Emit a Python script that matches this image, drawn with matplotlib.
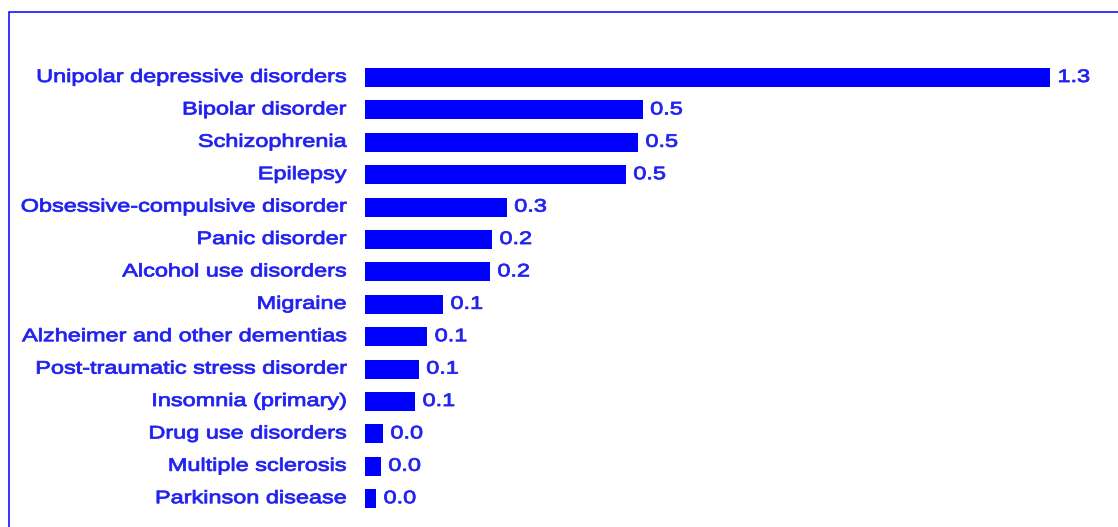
import matplotlib
matplotlib.use("Agg")
import matplotlib.pyplot as plt
import matplotlib.transforms as mtransforms
from matplotlib.patches import Rectangle
from matplotlib.patheffects import AbstractPathEffect

# Burden by condition (percent), largest first
conditions = [
    "Unipolar depressive disorders",
    "Bipolar disorder",
    "Schizophrenia",
    "Epilepsy",
    "Obsessive-compulsive disorder",
    "Panic disorder",
    "Alcohol use disorders",
    "Migraine",
    "Alzheimer and other dementias",
    "Post-traumatic stress disorder",
    "Insomnia (primary)",
    "Drug use disorders",
    "Multiple sclerosis",
    "Parkinson disease",
]
values = [1.30, 0.527, 0.518, 0.495, 0.269, 0.241, 0.237,
          0.148, 0.118, 0.102, 0.095, 0.034, 0.030, 0.021]

BLUE = "#0000ff"
TEXT = "#2020f0"
DPI = 100
W, H = 1118, 527

plt.rcParams["font.family"] = ["Liberation Sans", "DejaVu Sans"]


class WideText(AbstractPathEffect):
    """Widen glyphs horizontally about the left or right ink edge, with a thin outline."""

    def __init__(self, sx=1.30, anchor="left", stroke=0.6):
        super().__init__()
        self.sx, self.anchor, self.stroke = sx, anchor, stroke

    def draw_path(self, renderer, gc, tpath, affine, rgbFace=None):
        xa = tpath.get_extents().x1 if self.anchor == "right" else 0.0
        t = (mtransforms.Affine2D().translate(-xa, 0).scale(self.sx, 1)
             .translate(xa, 0)) + affine
        gc0 = renderer.new_gc()
        gc0.copy_properties(gc)
        gc0.set_linewidth(self.stroke)
        gc0.set_foreground(rgbFace)
        renderer.draw_path(gc0, tpath, t, rgbFace)
        gc0.restore()


fig = plt.figure(figsize=(W / DPI, H / DPI), dpi=DPI)

# axes placement in figure pixels
x0, x1 = 365, 1100
y_top, y_bot = 61.3, 514.9
ax = fig.add_axes([x0 / W, 1 - y_bot / H, (x1 - x0) / W, (y_bot - y_top) / H])

pos = list(range(len(conditions)))
ax.barh(pos, values, height=0.59, color=BLUE, edgecolor="none")

px_per_unit = 685 / 1.30
row_px = (y_bot - y_top) / len(conditions)
ax.set_xlim(0, (x1 - x0) / px_per_unit)
ax.set_ylim(len(conditions) - 0.5, -0.5)
ax.set_xticks([])
ax.set_yticks([])
for s in ax.spines.values():
    s.set_visible(False)

FS = 13
base = 4.5 / row_px          # baseline sits a little below bar centre
name_x = -18.5 / px_per_unit
gap = 7.5 / px_per_unit

for p, (name, v) in enumerate(zip(conditions, values)):
    t1 = ax.text(name_x, p + base, name, ha="right", va="baseline",
                 color=TEXT, fontsize=FS, clip_on=False)
    t1.set_path_effects([WideText(anchor="right")])
    t2 = ax.text(v + gap, p + base, f"{v:.1f}", ha="left", va="baseline",
                 color=TEXT, fontsize=FS, clip_on=False)
    t2.set_path_effects([WideText(anchor="left")])

# frame around the chart area (extends past right and bottom edges)
frame = Rectangle((8.5 / W, -0.2), 2.0, 1.2 - 11.5 / H,
                  transform=fig.transFigure, fill=False,
                  edgecolor=BLUE, linewidth=1.1)
fig.add_artist(frame)

fig.savefig("out.png", dpi=DPI)
